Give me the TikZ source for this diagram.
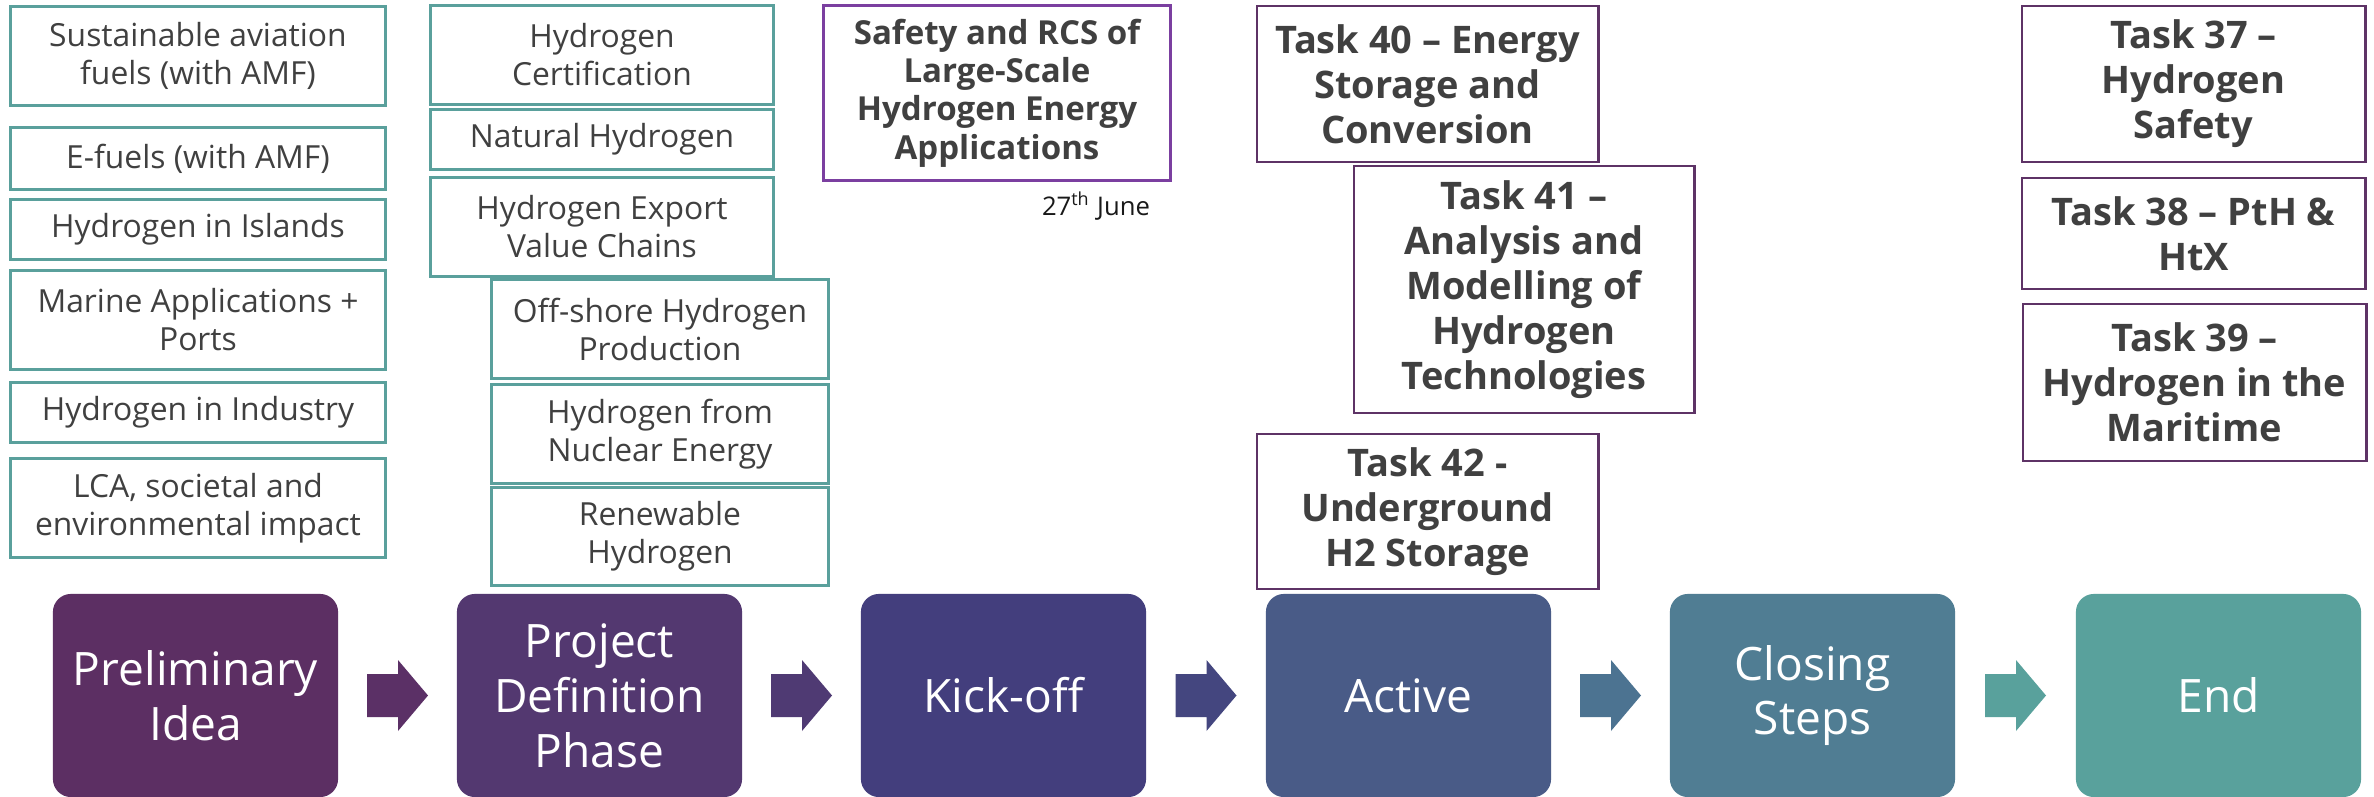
\documentclass[tikz,border=0pt]{standalone}
\usepackage{fontspec}
\setmainfont{Open Sans}
\usepackage{xcolor}
\usetikzlibrary{calc}

% Stage colours, from purple to teal
\definecolor{prel}{HTML}{5C2F63}
\definecolor{proj}{HTML}{533870}
\definecolor{kick}{HTML}{433E7D}
\definecolor{actv}{HTML}{495B87}
\definecolor{clos}{HTML}{507D93}
\definecolor{fin}{HTML}{59A19C}
\definecolor{arrA}{HTML}{5B3066}
\definecolor{arrB}{HTML}{4F3A73}
\definecolor{arrC}{HTML}{44467F}
\definecolor{arrD}{HTML}{4C7391}
\definecolor{arrE}{HTML}{59A19C}
\definecolor{tealline}{HTML}{5AA09C}
\definecolor{taskline}{HTML}{5E3366}
\definecolor{rcsline}{HTML}{7B3FA0}
\definecolor{txt}{HTML}{404040}

\tikzstyle{topic} = [%
					draw = tealline,
					line width = 0.85pt,
					text = txt,
					align = center,
					inner sep = 0pt,
					font = \fontsize{9.05}{10.8}\selectfont]
\tikzstyle{task} = [%
					draw = taskline,
					line width = 0.8pt,
					text = txt,
					align = center,
					inner sep = 0pt,
					font = \bfseries\fontsize{10.8}{12.8}\selectfont]
\tikzstyle{stage} = [%
					rounded corners = 0.18cm,
					text = white,
					align = center,
					inner sep = 0pt,
					minimum width = 2.85cm,
					minimum height = 2.03cm,
					font = \fontsize{13.1}{15.6}\selectfont]

\begin{document}
\begin{tikzpicture}[x=0.01cm, y=-0.01cm, size/.style args={#1,#2}{minimum width=#1,minimum height=#2}]

	% Frame
	\path[use as bounding box, fill=white] (0,0) rectangle (2374,797);

	% Topics
	%% First column
	\node[topic, size={3.74cm,0.98cm}] at (198,56) (saf) {Sustainable aviation\\fuels (with AMF)};
	\node[topic, size={3.74cm,0.61cm}] at (198,158.5) (efu) {E-fuels (with AMF)};
	\node[topic, size={3.74cm,0.59cm}] at (198,229.5) (isl) {Hydrogen in Islands};
	\node[topic, size={3.74cm,0.98cm}] at (198,320) (mar) {Marine Applications +\\Ports};
	\node[topic, size={3.74cm,0.59cm}] at (198,412.5) (ind) {Hydrogen in Industry};
	\node[topic, size={3.74cm,0.98cm}] at (198,508) (lca) {LCA, societal and\\environmental impact};
	%% Second column
	\node[topic, size={3.42cm,0.98cm}] at (602,55) (cert) {Hydrogen\\Certification};
	\node[topic, size={3.42cm,0.59cm}] at (602,139.5) (nat) {Natural Hydrogen};
	\node[topic, size={3.42cm,0.98cm}] at (602,227) (exp) {Hydrogen Export\\Value Chains};
	%% Third column
	\node[topic, size={3.36cm,0.98cm}] at (660,329) (off) {Off-shore Hydrogen\\Production};
	\node[topic, size={3.36cm,0.98cm}] at (660,434) (nuc) {Hydrogen from\\Nuclear Energy};
	\node[topic, size={3.36cm,0.97cm}] at (660,536.5) (ren) {Renewable\\Hydrogen};

	% Kick-off workshop
	\node[task, draw=rcsline, size={3.46cm,1.75cm}, font=\bfseries\fontsize{9.4}{10.9}\selectfont] at (997,93) (rcs) {Safety and RCS of\\Large-Scale\\Hydrogen Energy\\Applications};
	\node[text=black!90, font=\fontsize{7.3}{8.5}\selectfont, inner sep=0pt] at (1096,206) (june) {27\textsuperscript{th} June};

	% Tasks
	\node[task, size={3.41cm,1.56cm}] at (1427.5,84) (t40) {Task 40 -- Energy\\Storage and\\Conversion};
	\node[task, size={3.40cm,2.47cm}] at (1524,289.5) (t41) {Task 41 --\\Analysis and\\Modelling of\\Hydrogen\\Technologies};
	\node[task, size={3.41cm,1.55cm}] at (1427.5,511.5) (t42) {Task 42 -\\Underground\\H2 Storage};
	\node[task, size={3.43cm,1.56cm}] at (2193.5,84) (t37) {Task 37 --\\Hydrogen\\Safety};
	\node[task, size={3.43cm,1.11cm}] at (2193.5,233.5) (t38) {Task 38 -- PtH \&\\HtX};
	\node[task, size={3.43cm,1.57cm}] at (2194.5,382.5) (t39) {Task 39 --\\Hydrogen in the\\Maritime};

	% Stages
	\node[stage, fill=prel] at (195.5,695.5) (p1) {Preliminary\\Idea};
	\node[stage, fill=proj] at (599.5,695.5) (p2) {Project\\Definition\\Phase};
	\node[stage, fill=kick] at (1003.5,695.5) (p3) {Kick-off};
	\node[stage, fill=actv] at (1408.5,695.5) (p4) {Active};
	\node[stage, fill=clos] at (1812.5,695.5) (p5) {Closing\\Steps};
	\node[stage, fill=fin] at (2218.5,695.5) (p6) {End};

	% Block arrows between the stages
	\foreach \a/\b/\c in {p1/p2/arrA, p2/p3/arrB, p3/p4/arrC, p4/p5/arrD, p5/p6/arrE}
	{
		\fill[\c] ($(\a.east)!0.5!(\b.west)$) ++(-30.5,-21.5) -- ++(31,0) -- ++(0,-14) -- ++(30,35.5) -- ++(-30,35.5) -- ++(0,-14) -- ++(-31,0) -- cycle;
	}
\end{tikzpicture}
\end{document}
